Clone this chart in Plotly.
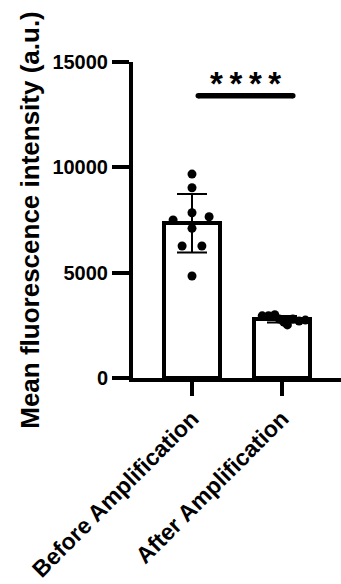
import plotly.graph_objects as go

# ---- data ----
categories = ["Before Amplification", "After Amplification"]
bar_means = [7350, 2790]
bar_sd = [1390, 150]

before_offsets = [0.0, 0.0, 0.0, -0.21, 0.19, 0.0, -0.11, 0.11, 0.0]
before_values = [9680, 9030, 7845, 7500, 7655, 7105, 6265, 6265, 4840]

after_offsets = [-0.22, -0.15, -0.08, -0.03, 0.02, 0.06, 0.12, 0.19, 0.26]
after_values = [2950, 2960, 3000, 2800, 2650, 2520, 2800, 2700, 2750]

y_ticks = [0, 5000, 10000, 15000]
sig_x = [0.07, 1.12]
sig_y = [13400, 13400]
sig_text = "*\u2009*\u2009*\u2009*"
sig_text_x = 0.59
sig_text_y = 14000

# ---- layout constants ----
W, H = 341, 584
L, R, T, B = 133, 0, 62, 206
px_per_cat = 90.0
cat0_px = 192.0
x0 = -(cat0_px - L) / px_per_cat
x1 = x0 + (W - L - R) / px_per_cat
FONT = "Arial, Liberation Sans, sans-serif"

fig = go.Figure()

fig.add_trace(go.Bar(
    x=[0, 1], y=bar_means, width=0.62,
    marker=dict(color="white", line=dict(color="black", width=4)),
    error_y=dict(type="data", array=bar_sd, visible=True,
                 color="black", thickness=2, width=15),
    showlegend=False, hoverinfo="skip",
))

xs = [0 + o for o in before_offsets] + [1 + o for o in after_offsets]
ys = before_values + after_values
fig.add_trace(go.Scatter(
    x=xs, y=ys, mode="markers",
    marker=dict(color="black", size=9, line=dict(width=0)),
    showlegend=False, hoverinfo="skip", cliponaxis=False,
))

fig.add_trace(go.Scatter(
    x=sig_x, y=sig_y, mode="lines+markers",
    line=dict(color="black", width=5.5),
    marker=dict(color="black", size=5.5),
    showlegend=False, hoverinfo="skip",
))

fig.add_annotation(
    x=sig_text_x, y=sig_text_y, text=sig_text, showarrow=False,
    font=dict(family=FONT, size=33, color="black", weight="bold"),
    xanchor="center", yanchor="middle",
)

fig.update_layout(
    width=W, height=H,
    margin=dict(l=L, r=R, t=T, b=B, pad=0, autoexpand=False),
    paper_bgcolor="white", plot_bgcolor="white",
    font=dict(family=FONT, color="black"),
    bargap=0,
)

fig.update_xaxes(
    range=[x0, x1], tickmode="array", tickvals=[0, 1], ticktext=categories,
    tickangle=-45, ticks="outside", ticklen=14, tickwidth=3.5, tickcolor="black",
    showline=True, linewidth=4, linecolor="black", showgrid=False, zeroline=False,
    automargin=False,
    tickfont=dict(family=FONT, size=23, color="black", weight="bold"),
)

fig.update_yaxes(
    range=[0, 15000], tickmode="array", tickvals=y_ticks,
    ticktext=[str(v) for v in y_ticks],
    ticks="outside", ticklen=17, tickwidth=4, tickcolor="black",
    showline=True, linewidth=4, linecolor="black", showgrid=False, zeroline=False,
    automargin=False,
    tickfont=dict(family=FONT, size=20, color="black", weight="bold"),
    title=dict(text="Mean fluorescence intensity (a.u.)",
               font=dict(family=FONT, size=26, color="black", weight="bold"),
               standoff=6),
)

fig.write_html("out.html")
